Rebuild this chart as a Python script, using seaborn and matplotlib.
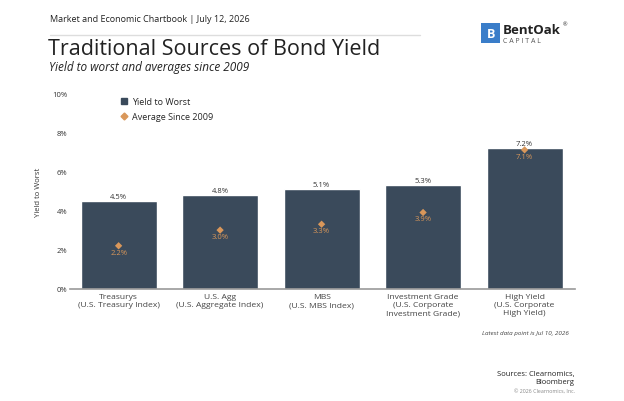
import pandas as pd
import matplotlib.pyplot as plt
import seaborn as sns
from matplotlib.lines import Line2D
from matplotlib.patches import Rectangle

categories = ['Treasurys\n(U.S. Treasury Index)', 'U.S. Agg\n(U.S. Aggregate Index)',
              'MBS\n(U.S. MBS Index)', 'Investment Grade\n(U.S. Corporate\nInvestment Grade)',
              'High Yield\n(U.S. Corporate\nHigh Yield)']
yield_to_worst = [4.5, 4.8, 5.1, 5.3, 7.2]
avg_since_2009 = [2.2, 3.0, 3.3, 3.9, 7.1]
yticks = [0, 2, 4, 6, 8, 10]

bar_color = '#3a4a5b'
dot_color = '#d9975a'
text_color = '#333333'

df = pd.DataFrame({'cat': categories, 'ytw': yield_to_worst, 'avg': avg_since_2009})

sns.set_style('white')
plt.rcParams['font.family'] = ['Open Sans', 'DejaVu Sans']

fig = plt.figure(figsize=(6.24, 4.02), dpi=100)
ax = fig.add_axes([0.112, 0.279, 0.81, 0.487])

sns.barplot(data=df, x='cat', y='ytw', color=bar_color, width=0.75, saturation=1, ax=ax)
sns.scatterplot(data=df, x='cat', y='avg', marker='D', color=dot_color, s=14,
                edgecolor='none', ax=ax, zorder=3)

for i, (v, a) in enumerate(zip(yield_to_worst, avg_since_2009)):
    ax.text(i, v + 0.03, f'{v:.1f}%', ha='center', va='bottom', fontsize=5.5, color=text_color)
    ax.text(i, a - 0.15, f'{a:.1f}%', ha='center', va='top', fontsize=5.5, color=dot_color)

ax.set_xlim(-0.48, 4.5)
ax.set_ylim(0, 10)
ax.set_yticks(yticks)
ax.set_yticklabels([f'{t}%' for t in yticks], fontsize=5.5, color=text_color)
ax.tick_params(axis='x', labelsize=6.1, colors='#444444', length=0, pad=3)
ax.tick_params(axis='y', length=0, pad=2)
for lbl in ax.get_xticklabels():
    lbl.set_linespacing(1.2)
ax.set_xlabel('')
ax.set_ylabel('Yield to Worst', fontsize=5.5, color=text_color, labelpad=7)
for s in ['top', 'right', 'left']:
    ax.spines[s].set_visible(False)
ax.spines['bottom'].set_color('#999999')
ax.spines['bottom'].set_linewidth(1.2)

handles = [Line2D([], [], marker='s', linestyle='', color=bar_color, markersize=4),
           Line2D([], [], marker='D', linestyle='', color=dot_color, markersize=3.5)]
ax.legend(handles, ['Yield to Worst', 'Average Since 2009'], loc='upper left',
          bbox_to_anchor=(0.08, 1.02), frameon=False, fontsize=6.5,
          handletextpad=0.3, labelspacing=0.6, handlelength=1.2)

# header
fig.text(0.08, 0.945, 'Market and Economic Chartbook | July 12, 2026', fontsize=6.5, color='#222222')
fig.add_artist(Line2D([0.08, 0.673], [0.91, 0.91], color='#dddddd', lw=1))
fig.text(0.077, 0.862, 'Traditional Sources of Bond Yield', fontsize=15.5, color='#222222')
fig.text(0.079, 0.823, 'Yield to worst and averages since 2009', fontsize=8.5,
         style='italic', color='#222222')

# logo
fig.add_artist(Rectangle((0.771, 0.89), 0.031, 0.05, transform=fig.transFigure,
                         facecolor='#3a7dc9', edgecolor='none'))
fig.text(0.7865, 0.915, 'B', fontsize=9, fontweight='bold', color='white', ha='center', va='center')
fig.text(0.805, 0.923, 'BentOak', fontsize=9.5, fontweight='bold', color='#222222', va='center')
fig.text(0.902, 0.937, '®', fontsize=4, color='#222222', va='center')
fig.text(0.806, 0.897, 'C A P I T A L', fontsize=5, color='#555555', va='center')

# footer
fig.text(0.911, 0.167, 'Latest data point is Jul 10, 2026', fontsize=4.5, style='italic',
         color='#444444', ha='right')
fig.text(0.921, 0.045, 'Sources: Clearnomics,\nBloomberg', fontsize=5.5, color='#222222',
         ha='right', linespacing=1.2)
fig.text(0.921, 0.022, '© 2026 Clearnomics, Inc.', fontsize=3.8, color='#888888', ha='right')

fig.savefig('out.png', dpi=100)
